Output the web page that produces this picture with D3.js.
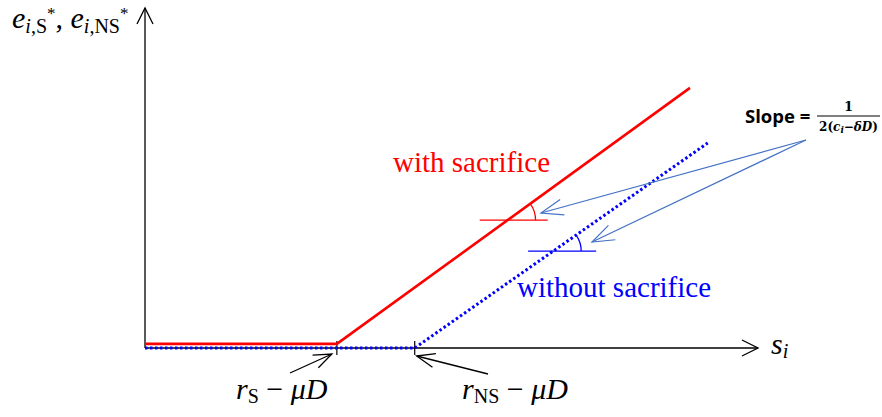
<!DOCTYPE html>
<html><head><meta charset="utf-8">
<script src="https://cdn.jsdelivr.net/npm/d3@7"></script>
<style>body{margin:0;background:#fff}svg{display:block}
.serif{font-family:"Liberation Serif","Times New Roman","DejaVu Serif",serif}
.calib{font-family:"Open Sans","Lato","Liberation Sans",sans-serif}
.cmath{font-family:"DejaVu Serif","Liberation Serif",serif}
</style>
</head><body>
<svg id="c" width="882" height="417"></svg>
<script>
// data (domain units)
const withSacrifice = [[0, 1.2], [31.3, 1.2], [88.9, 76.5]];
const withoutSacrifice = [[0, 0], [44.0, 0], [91.8, 60.3]];
const tickPositions = [31.3, 44.0];
const seriesLabels = ["with sacrifice", "without sacrifice"];

const svg = d3.select("#c");
const x = d3.scaleLinear().domain([0, 100]).range([145, 758]);
const y = d3.scaleLinear().domain([0, 100]).range([348, 8]);
const line = d3.line().x(d => x(d[0])).y(d => y(d[1]));

// axes
svg.append("line").attr("x1", x(0)).attr("y1", y(0)).attr("x2", x(100)).attr("y2", y(0)).attr("stroke", "#000").attr("stroke-width", 1.3);
svg.append("line").attr("x1", x(0)).attr("y1", y(0)).attr("x2", x(0)).attr("y2", y(100)).attr("stroke", "#000").attr("stroke-width", 1.3);
svg.append("path").attr("d", `M${x(100)-16},${y(0)-8}L${x(100)},${y(0)}L${x(100)-16},${y(0)+8}`).attr("fill", "none").attr("stroke", "#000").attr("stroke-width", 1.3);
svg.append("path").attr("d", `M${x(0)-8},${y(100)+16}L${x(0)},${y(100)}L${x(0)+8},${y(100)+16}`).attr("fill", "none").attr("stroke", "#000").attr("stroke-width", 1.3);

// ticks
tickPositions.forEach(t => {
  svg.append("line").attr("x1", x(t)).attr("x2", x(t)).attr("y1", y(0) - 7).attr("y2", y(0) + 7).attr("stroke", "#000").attr("stroke-width", 1.2);
});

// series
svg.append("path").attr("d", line(withoutSacrifice)).attr("fill", "none").attr("stroke", "#0000ff").attr("stroke-width", 3).attr("stroke-dasharray", "2.5,2.5");
svg.append("path").attr("d", line(withSacrifice)).attr("fill", "none").attr("stroke", "#ff0000").attr("stroke-width", 2.6);

const red = withSacrifice, blue = withoutSacrifice;
function crossX(s, yv) { const a = s[1], b = s[2]; return a[0] + (yv - a[1]) * (b[0] - a[0]) / (b[1] - a[1]); }
function drawAngle(s, yv, left, right, col, r) {
  const cx = x(crossX(s, yv)), cy = y(yv);
  svg.append("line").attr("x1", x(left)).attr("x2", x(right)).attr("y1", cy).attr("y2", cy).attr("stroke", col).attr("stroke-width", 1.3);
  const ang = Math.atan2(y(s[1][1]) - y(s[2][1]), x(s[2][0]) - x(s[1][0]));
  const ex = cx + r * Math.cos(ang), ey = cy - r * Math.sin(ang);
  svg.append("path").attr("d", `M${ex},${ey}A${r},${r} 0 0 1 ${cx + r},${cy}`).attr("fill", "none").attr("stroke", col).attr("stroke-width", 1.3);
}
drawAngle(red, 37.6, 54.6, 65.7, "#ff0000", 28);
drawAngle(blue, 28.5, 62.5, 73.6, "#0000ff", 28);

// labels
svg.append("text").attr("class", "serif").attr("x", 393).attr("y", 172).attr("fill", "#ff0000").attr("font-size", 29).text(seriesLabels[0]);
svg.append("text").attr("class", "serif").attr("x", 517).attr("y", 297).attr("fill", "#0000ff").attr("font-size", 29).text(seriesLabels[1]);

// y label
const yl = svg.append("text").attr("class", "serif").attr("x", 12).attr("y", 28).attr("font-size", 30);
yl.append("tspan").attr("font-style", "italic").text("e");
yl.append("tspan").attr("font-size", 20).attr("dy", 5).attr("font-style", "italic").text("i");
yl.append("tspan").attr("font-size", 20).text(",S");
yl.append("tspan").attr("font-size", 17).attr("dy", -14).text("*");
yl.append("tspan").attr("dy", 9).text(", ");
yl.append("tspan").attr("font-style", "italic").text("e");
yl.append("tspan").attr("font-size", 20).attr("dy", 5).attr("font-style", "italic").text("i");
yl.append("tspan").attr("font-size", 20).text(",NS");
yl.append("tspan").attr("font-size", 17).attr("dy", -14).text("*");

// x label
const xl = svg.append("text").attr("class", "serif").attr("x", 771).attr("y", 354).attr("font-size", 30);
xl.append("tspan").attr("font-style", "italic").text("s");
xl.append("tspan").attr("font-style", "italic").attr("font-size", 20).attr("dy", 4).text("i");

// tick labels
function rLabel(xp, sub) {
  const t = svg.append("text").attr("class", "serif").attr("x", xp).attr("y", 399).attr("font-size", 30);
  t.append("tspan").attr("font-style", "italic").text("r");
  t.append("tspan").attr("font-size", 20).attr("dy", 4).text(sub);
  t.append("tspan").attr("dy", -4).text(" \u2212 ");
  t.append("tspan").attr("font-style", "italic").text("\u03bcD");
}
rLabel(236, "S");
rLabel(462, "NS");

// open arrow helper
function arrow(x1, y1, x2, y2, col, w, len, hw) {
  svg.append("line").attr("x1", x1).attr("y1", y1).attr("x2", x2).attr("y2", y2).attr("stroke", col).attr("stroke-width", w);
  const a = Math.atan2(y2 - y1, x2 - x1);
  const p = (s) => [x2 - len * Math.cos(a) + s * hw * Math.sin(a), y2 - len * Math.sin(a) - s * hw * Math.cos(a)];
  const l = p(1), r = p(-1);
  svg.append("path").attr("d", `M${l[0]},${l[1]}L${x2},${y2}L${r[0]},${r[1]}`).attr("fill", "none").attr("stroke", col).attr("stroke-width", w);
}
arrow(290, 373, x(tickPositions[0]) - 5, 354, "#000", 1.3, 18, 7);
arrow(488, 374, x(tickPositions[1]) + 2, 356, "#000", 1.3, 18, 7);

// slope pointers
arrow(806, 140, 541, 213, "#4472c4", 1.2, 22, 8);
arrow(806, 140, 592, 242, "#4472c4", 1.2, 22, 8);

// slope annotation
svg.append("text").attr("class", "calib").attr("x", 745).attr("y", 123).attr("font-weight", "bold").attr("font-size", 18.5).text("Slope =");
svg.append("line").attr("x1", 817).attr("x2", 880).attr("y1", 116).attr("y2", 116).attr("stroke", "#000").attr("stroke-width", 1);
svg.append("text").attr("class", "cmath").attr("x", 848.5).attr("y", 111).attr("text-anchor", "middle").attr("font-weight", "bold").attr("font-size", 13).text("1");
const fr = svg.append("text").attr("class", "cmath").attr("x", 848.5).attr("y", 131).attr("text-anchor", "middle").attr("font-weight", "bold").attr("font-size", 12);
fr.append("tspan").text("2(");
fr.append("tspan").attr("font-style", "italic").text("c");
fr.append("tspan").attr("font-style", "italic").attr("font-size", 9).attr("dy", 2).text("i");
fr.append("tspan").attr("dy", -2).text("\u2212");
fr.append("tspan").attr("font-style", "italic").text("\u03b4D");
fr.append("tspan").text(")");
</script>
</body></html>
